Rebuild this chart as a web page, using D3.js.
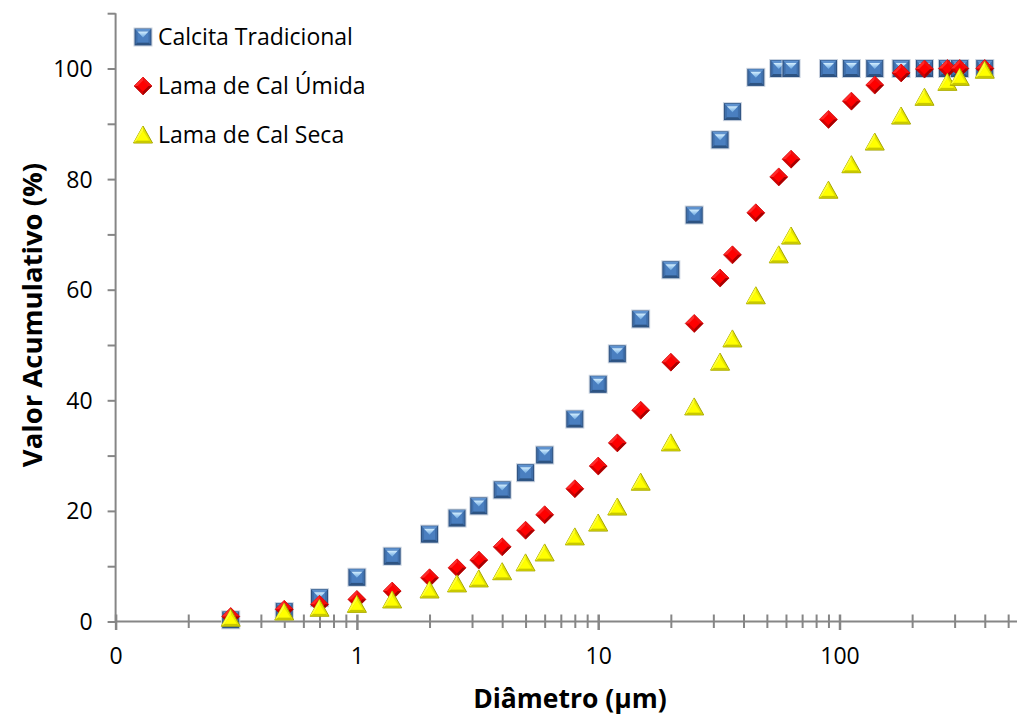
<!DOCTYPE html>
<html>
  <head>
    <meta charset="utf-8">
    <script src="https://cdnjs.cloudflare.com/ajax/libs/d3/7.8.5/d3.min.js"></script>
<style>
  body { margin: 0; background: #fff; }
  svg { display: block; font-family: "Open Sans", Lato, sans-serif; }
  .axis path, .axis line { stroke: #868686; }
  .axis text { font-size: 23px; fill: #000; font-family: "Open Sans", sans-serif; }
</style>
  </head>
  <body>
    <div id="vis"></div>
    <script type="text/javascript">

        // particle diameters (um)
        const diameters = [0.3, 0.5, 0.7, 1.0, 1.4, 2, 2.6, 3.2, 4, 5, 6, 8, 10, 12, 15,
            20, 25, 32, 36, 45, 56, 63, 90, 112, 140, 180, 225, 280, 315, 400];

        const calcita = [0.3, 1.8, 4.3, 8.0, 11.8, 15.8, 18.7, 20.9, 23.8, 26.9, 30.1, 36.6, 42.9, 48.4, 54.7,
            63.6, 73.5, 87.1, 92.2, 98.4, 100, 100, 100, 100, 100, 100, 100, 100, 100, 100];
        const lamaUmida = [0.9, 2.2, 3.1, 4.0, 5.5, 7.9, 9.7, 11.1, 13.5, 16.5, 19.3, 24.0, 28.1, 32.3, 38.2,
            46.9, 53.9, 62.1, 66.3, 73.9, 80.4, 83.6, 90.8, 94.1, 97.0, 99.2, 99.9, 100, 100, 100];
        const lamaSeca = [0.6, 1.7, 2.4, 3.1, 3.9, 5.7, 6.8, 7.7, 9.0, 10.6, 12.4, 15.3, 17.8, 20.7, 25.2,
            32.3, 38.8, 46.9, 51.1, 58.9, 66.3, 69.7, 78.0, 82.6, 86.7, 91.4, 94.8, 97.5, 98.4, 99.7];

        const seriesNames = ["Calcita Tradicional", "Lama de Cal Úmida", "Lama de Cal Seca"];
        const xMajor = [0.1, 1, 10, 100, 1000];
        const xTickLabels = ["0", "1", "10", "100", ""];
        const yTicks = [0, 20, 40, 60, 80, 100];

        const width = 1017;
        const height = 718;
        const svg = d3.select("#vis").append("svg")
            .attr("width", width)
            .attr("height", height);

        // marker definitions (Excel-like bevelled shapes)
        const defs = svg.append("defs");
        const lg = defs.append("linearGradient").attr("id", "sqLight")
            .attr("x1", 0).attr("y1", 0).attr("x2", 0).attr("y2", 1);
        lg.append("stop").attr("offset", "0%").attr("stop-color", "#d4efff");
        lg.append("stop").attr("offset", "100%").attr("stop-color", "#6aa6e0");

        const sq = defs.append("g").attr("id", "mk0");
        sq.append("rect").attr("x", -9).attr("y", -9).attr("width", 18).attr("height", 18)
            .attr("fill", "none").attr("stroke", "#c9d3e0").attr("stroke-width", 1);
        sq.append("rect").attr("x", -8).attr("y", -8).attr("width", 16).attr("height", 16)
            .attr("fill", "#3f6fab").attr("stroke", "#2b4f7e").attr("stroke-width", 1);
        sq.append("path").attr("d", "M-8,-8L8,-8L5.5,-5.5L-5.5,-5.5Z").attr("fill", "#5e92cf");
        sq.append("path").attr("d", "M-8,8L8,8L5.5,5.5L-5.5,5.5Z").attr("fill", "#2d5382");
        sq.append("rect").attr("x", -5.5).attr("y", -5.5).attr("width", 11).attr("height", 11)
            .attr("fill", "#4a7fc0");
        sq.append("path").attr("d", "M-5.5,-5.5L5.5,-5.5L0,0.5Z").attr("fill", "url(#sqLight)");

        const dm = defs.append("g").attr("id", "mk1");
        dm.append("path").attr("d", "M0,-9L9,0L0,9L-9,0Z").attr("fill", "#d40000")
            .attr("stroke", "#b80000").attr("stroke-width", 0.6);
        dm.append("path").attr("d", "M0,-9L9,0L0,0Z").attr("fill", "#f01010");
        dm.append("path").attr("d", "M0,-9L-9,0L0,0Z").attr("fill", "#ff2a2a");
        dm.append("path").attr("d", "M0,9L9,0L0,0Z").attr("fill", "#a80000");
        dm.append("path").attr("d", "M0,-5.5L5.5,0L0,5.5L-5.5,0Z").attr("fill", "#ff0000");

        const tr = defs.append("g").attr("id", "mk2");
        tr.append("path").attr("d", "M0,-9L9.5,8L-9.5,8Z").attr("fill", "#e6e600")
            .attr("stroke", "#a3a300").attr("stroke-width", 1);
        tr.append("path").attr("d", "M0,-9L-9.5,8L-6,5.5L0,-4Z").attr("fill", "#ffff33");
        tr.append("path").attr("d", "M-9.5,8L9.5,8L6,5.5L-6,5.5Z").attr("fill", "#c8c800");
        tr.append("path").attr("d", "M0,-4L6,5.5L-6,5.5Z").attr("fill", "#ffff00");

        // scales
        const x = d3.scaleLog().domain([0.1, 1000]).range([115.6, 1080.8]);
        const y = d3.scaleLinear().domain([0, 110]).range([621.5, 13.2]);

        // y axis
        const yAxis = d3.axisLeft(y)
            .tickValues(d3.range(0, 111, 10))
            .tickSize(8)
            .tickFormat(d => yTicks.includes(d) ? d : "");
        const gy = svg.append("g").attr("class", "axis")
            .attr("transform", "translate(" + x(0.1) + ",0)")
            .call(yAxis);
        gy.select(".domain").attr("stroke-width", 2).attr("d", "M0," + y(110) + "V" + y(0));
        gy.selectAll(".tick line").attr("stroke-width", 2);
        gy.selectAll(".tick text").attr("x", -23).attr("dy", "0.35em");

        // x axis (ticks crossing the line)
        const minor = [];
        [0.1, 1, 10, 100].forEach(b => d3.range(1, 10).forEach(k => minor.push(b * k)));
        minor.push(1000);
        const isMajor = d => xMajor.some(m => Math.abs(m - d) / m < 1e-6);
        const xAxis = d3.axisBottom(x)
            .tickValues(minor)
            .tickSize(7)
            .tickFormat(d => {
                const i = xMajor.findIndex(m => Math.abs(m - d) / m < 1e-6);
                return i >= 0 ? xTickLabels[i] : "";
            });
        const gx = svg.append("g").attr("class", "axis")
            .attr("transform", "translate(0," + y(0) + ")")
            .call(xAxis);
        gx.select(".domain").attr("stroke-width", 2).attr("d", "M" + x(0.1) + ",0H" + x(1000));
        gx.selectAll(".tick line")
            .attr("y1", -7)
            .attr("y2", d => isMajor(d) ? 8.5 : 6.5)
            .attr("stroke-width", d => isMajor(d) ? 2.5 : 2);
        gx.selectAll(".tick text").attr("y", 34).attr("dy", "0.35em");

        // points
        const series = [calcita, lamaUmida, lamaSeca];
        series.forEach((vals, i) => {
            svg.append("g").selectAll("use")
                .data(vals)
                .join("use")
                .attr("href", "#mk" + i)
                .attr("x", (v, j) => x(diameters[j]))
                .attr("y", v => y(v));
        });

        // legend
        const legend = svg.append("g").attr("transform", "translate(143,37)");
        seriesNames.forEach((name, i) => {
            legend.append("use").attr("href", "#mk" + i).attr("x", 0).attr("y", i * 49);
            legend.append("text")
                .attr("x", 15).attr("y", i * 49).attr("dy", "0.35em")
                .attr("font-size", "23px")
                .text(name);
        });

        // axis titles
        svg.append("text")
            .attr("x", 570).attr("y", 699).attr("dy", "0.35em")
            .attr("text-anchor", "middle")
            .attr("font-size", "26.5px").attr("font-weight", "bold")
            .text("Diâmetro (μm)");
        svg.append("text")
            .attr("transform", "translate(32,315) rotate(-90)")
            .attr("dy", "0.35em")
            .attr("text-anchor", "middle")
            .attr("font-size", "27.5px").attr("font-weight", "bold")
            .text("Valor Acumulativo (%)");

    </script>
  </body>
</html>
